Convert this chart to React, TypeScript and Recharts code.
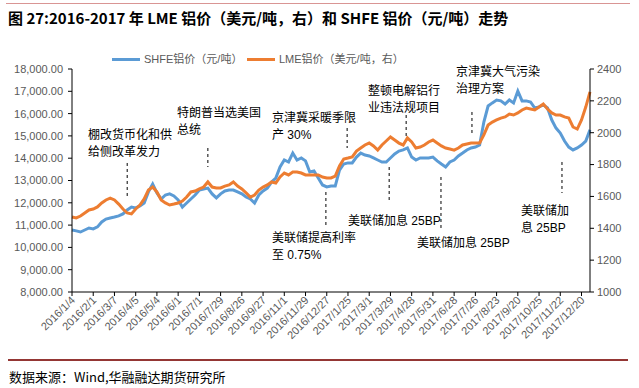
import React from "react";
import { LineChart, Line, XAxis, YAxis, ReferenceLine } from "recharts";

// Tick labels (one every 5 points)
const tickLabels = [
  "2016/1/4", "2016/2/1", "2016/3/7", "2016/4/5", "2016/5/4", "2016/6/1", "2016/7/1",
  "2016/7/29", "2016/8/26", "2016/9/27", "2016/11/1", "2016/11/29", "2016/12/27",
  "2017/1/25", "2017/3/1", "2017/3/29", "2017/4/28", "2017/5/31", "2017/6/28",
  "2017/7/26", "2017/8/23", "2017/9/20", "2017/10/25", "2017/11/22", "2017/12/20",
];

// SHFE aluminium (yuan/ton), left axis
const shfe = [
  10780, 10740, 10690, 10780, 10870, 10830, 10920, 11140, 11270, 11320,
  11360, 11410, 11500, 11680, 11810, 11770, 11860, 11990, 12490, 12840,
  12440, 12170, 12350, 12400, 12310, 12130, 11810, 11990, 12170, 12350,
  12570, 12620, 12660, 12400, 12220, 12400, 12530, 12570, 12570, 12490,
  12400, 12260, 12170, 11990, 12350, 12530, 12660, 12930, 13110, 13610,
  13920, 13830, 14230, 13920, 14010, 13880, 13380, 13430, 13110, 12800,
  12710, 12750, 12750, 13470, 13740, 13790, 13790, 14050, 14230, 14140,
  14100, 14010, 13920, 13830, 13830, 14010, 14190, 14320, 14370, 14460,
  14050, 13920, 14010, 14010, 14010, 14050, 13880, 13740, 13610, 13830,
  13920, 14100, 14230, 14370, 14460, 14500, 14590, 15620, 16340, 16480,
  16610, 16570, 16430, 16610, 16480, 17010, 16570, 16570, 16520, 16250,
  16300, 16390, 16250, 15710, 15350, 15130, 14770, 14500, 14370, 14460,
  14590, 14770, 15270,
];

// LME aluminium (USD/ton), right axis
const lme = [
  1471, 1465, 1477, 1496, 1515, 1521, 1534, 1559, 1578, 1590,
  1578, 1552, 1521, 1496, 1490, 1521, 1546, 1584, 1640, 1659,
  1628, 1578, 1559, 1546, 1552, 1559, 1571, 1596, 1628, 1634,
  1647, 1659, 1691, 1659, 1653, 1653, 1665, 1672, 1691, 1665,
  1647, 1622, 1596, 1609, 1640, 1659, 1672, 1691, 1684, 1722,
  1747, 1735, 1753, 1753, 1747, 1735, 1735, 1735, 1735, 1722,
  1716, 1716, 1728, 1791, 1835, 1841, 1848, 1885, 1904, 1923,
  1935, 1917, 1891, 1923, 1948, 1973, 1954, 1935, 1923, 1967,
  1942, 1904, 1910, 1923, 1942, 1954, 1935, 1917, 1904, 1898,
  1891, 1904, 1923, 1929, 1935, 1935, 1935, 1986, 2048, 2067,
  2080, 2092, 2099, 2117, 2111, 2124, 2143, 2155, 2149, 2143,
  2161, 2180, 2149, 2124, 2111, 2111, 2099, 2092, 2036, 2023,
  2080, 2161, 2256,
];

// Event markers: position index and dashed segment range (left axis units)
const events = [
  { x: 13, y1: 13785, y2: 12260 },
  { x: 32, y1: 14457, y2: 13605 },
  { x: 64.8, y1: 15354, y2: 14457 },
  { x: 78.7, y1: 15937, y2: 14951 },
  { x: 94.2, y1: 16072, y2: 15130 },
  { x: 59.8, y1: 12484, y2: 10915 },
  { x: 74.7, y1: 13605, y2: 11991 },
  { x: 86.9, y1: 13157, y2: 10780 },
  { x: 115.4, y1: 13830, y2: 12439 },
];

const eventTexts = [
  ["棚改货币化和供", "给侧改革发力"],
  ["特朗普当选美国", "总统"],
  ["京津冀采暖季限", "产 30%"],
  ["整顿电解铝行", "业违法规项目"],
  ["京津冀大气污染", "治理方案"],
  ["美联储提高利率", "至 0.75%"],
  ["美联储加息 25BP"],
  ["美联储加息 25BP"],
  ["美联储加", "息 25BP"],
];

const textPos = [
  { left: 88, top: 127 },
  { left: 177, top: 105 },
  { left: 272, top: 110 },
  { left: 368, top: 83 },
  { left: 456, top: 64 },
  { left: 272, top: 230 },
  { left: 348, top: 213 },
  { left: 417, top: 235 },
  { left: 521, top: 203 },
];

const leftTicks = [8000, 9000, 10000, 11000, 12000, 13000, 14000, 15000, 16000, 17000, 18000];
const rightTicks = [1000, 1200, 1400, 1600, 1800, 2000, 2200, 2400];
const xTicks = tickLabels.map((_, k) => k * 5);

const data = shfe.map((v, i) => ({ i, shfe: v, lme: lme[i] }));

const tickFont = { fontFamily: "'Liberation Sans', Arial, sans-serif", fontSize: 11, fill: "#595959" };
const cjkFont = "'Liberation Sans', 'Noto Sans CJK SC', sans-serif";

const XTick = (props: any) => {
  const { x, y, payload } = props;
  const label = tickLabels[Math.round(payload.value / 5)];
  return (
    <g transform={`translate(${x + 1},${y})`}>
      <text x={0} y={0} dy={4} textAnchor="end" transform="rotate(-45)" {...tickFont}>
        {label}
      </text>
    </g>
  );
};

const fmtLeft = (v: number) =>
  v.toLocaleString("en-US", { minimumFractionDigits: 2, maximumFractionDigits: 2 });

export default function App() {
  return (
    <div style={{ position: "absolute", left: 0, top: 0, width: 639, height: 388, background: "#fff", overflow: "hidden" }}>
      <div style={{ position: "absolute", left: 6, top: 3, width: 624, height: 1, background: "#d99594" }} />
      <div
        style={{
          position: "absolute", left: 8, top: 8, whiteSpace: "nowrap",
          fontFamily: "'Noto Sans CJK SC', sans-serif", fontWeight: 700, fontSize: 15, lineHeight: "20px", color: "#000",
        }}
      >
        图 27:2016-2017 年 LME 铝价（美元/吨，右）和 SHFE 铝价（元/吨）走势
      </div>

      <LineChart width={639} height={388} data={data} margin={{ top: 69, right: 0, bottom: 36, left: 0 }}
        style={{ position: "absolute", left: 0, top: 0 }}>
        <XAxis dataKey="i" type="number" domain={[0, 122]} ticks={xTicks} interval={0}
          tick={<XTick />} tickSize={4} tickMargin={2} height={60}
          axisLine={{ stroke: "#000" }} tickLine={{ stroke: "#000" }} />
        <YAxis yAxisId="left" domain={[8000, 18000]} ticks={leftTicks} interval={0} width={72}
          tickFormatter={fmtLeft} tick={tickFont} tickSize={4} tickMargin={5}
          axisLine={{ stroke: "#000" }} tickLine={{ stroke: "#000" }} />
        <YAxis yAxisId="right" orientation="right" domain={[1000, 2400]} ticks={rightTicks} interval={0} width={49}
          tick={tickFont} tickSize={4} tickMargin={3}
          axisLine={{ stroke: "#000" }} tickLine={{ stroke: "#000" }} />
        <Line yAxisId="left" dataKey="shfe" stroke="#5B9BD5" strokeWidth={3} dot={false} isAnimationActive={false} />
        <Line yAxisId="right" dataKey="lme" stroke="#ED7D31" strokeWidth={3} dot={false} isAnimationActive={false} />
        {events.map((e, k) => (
          <ReferenceLine key={k} yAxisId="left" segment={[{ x: e.x, y: e.y1 }, { x: e.x, y: e.y2 }]}
            stroke="#000" strokeWidth={1} strokeDasharray="3 3" />
        ))}
      </LineChart>

      {/* legend */}
      <div style={{ position: "absolute", left: 112, top: 58, width: 28, height: 3, background: "#5B9BD5" }} />
      <div style={{ position: "absolute", left: 144, top: 51, fontFamily: cjkFont, fontSize: 11, color: "#595959", lineHeight: "16px", whiteSpace: "nowrap" }}>
        SHFE铝价（元/吨）
      </div>
      <div style={{ position: "absolute", left: 247, top: 58, width: 28, height: 3, background: "#ED7D31" }} />
      <div style={{ position: "absolute", left: 279, top: 51, fontFamily: cjkFont, fontSize: 11, color: "#595959", lineHeight: "16px", whiteSpace: "nowrap" }}>
        LME铝价（美元/吨，右）
      </div>

      {eventTexts.map((lines, k) => (
        <div key={k} style={{
          position: "absolute", left: textPos[k].left, top: textPos[k].top, fontFamily: cjkFont,
          fontSize: 12, lineHeight: "17px", color: "#000", whiteSpace: "nowrap", background: "transparent",
        }}>
          {lines.map((t, j) => <div key={j}>{t}</div>)}
        </div>
      ))}

      <div style={{ position: "absolute", left: 8, top: 359, width: 620, height: 2, background: "#943634" }} />
      <div style={{
        position: "absolute", left: 9, top: 368, fontFamily: "'Noto Sans CJK SC', sans-serif", fontSize: 13,
        lineHeight: "17px", color: "#000", whiteSpace: "nowrap",
      }}>
        数据来源：Wind,华融融达期货研究所
      </div>
    </div>
  );
}
